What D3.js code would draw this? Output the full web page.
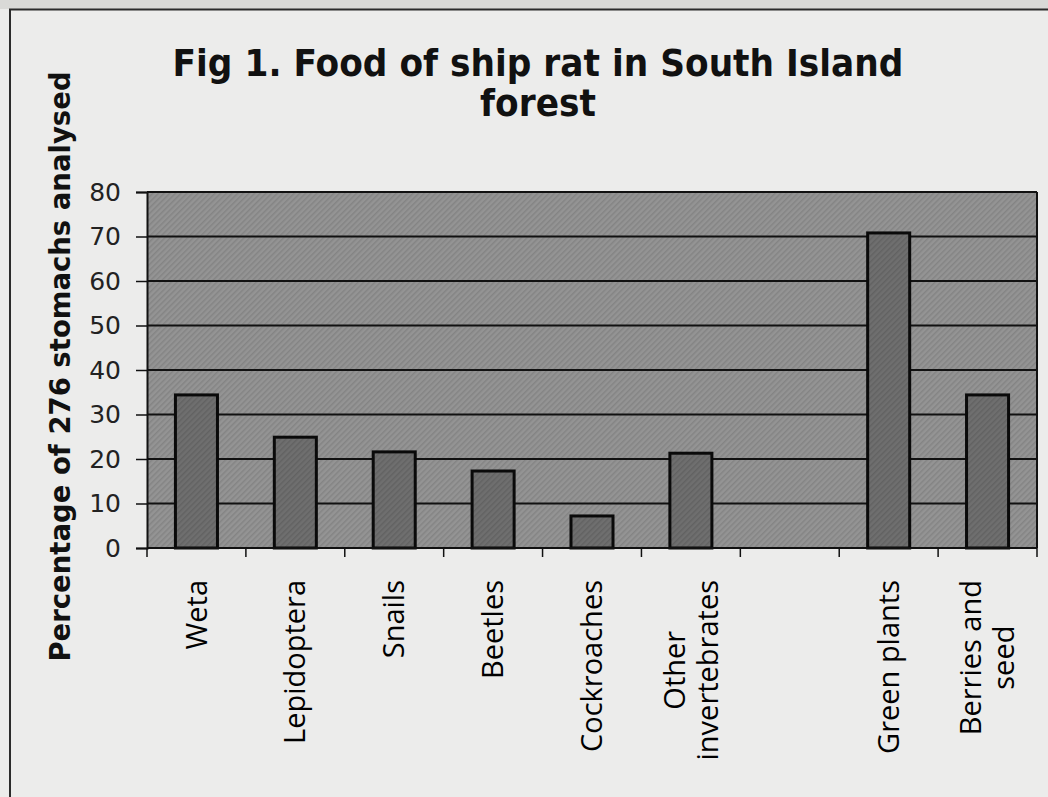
<!DOCTYPE html>
<html>
<head>
<meta charset="utf-8">
<script src="https://cdn.jsdelivr.net/npm/d3@7"></script>
<style>
  html, body { margin: 0; padding: 0; background: #ebebea; }
  svg { display: block; }
</style>
</head>
<body>
<svg id="chart"></svg>
<script>
// data
const categories = ["Weta", "Lepidoptera", "Snails", "Beetles", "Cockroaches",
    "Other invertebrates", "", "Green plants", "Berries and seed"];
const labelLines = [["Weta"], ["Lepidoptera"], ["Snails"], ["Beetles"], ["Cockroaches"],
    ["Other", "invertebrates"], [""], ["Green plants"], ["Berries and", "seed"]];
const percentages = [34.4, 24.9, 21.6, 17.3, 7.2, 21.3, null, 70.8, 34.4];
const yTicks = [0, 10, 20, 30, 40, 50, 60, 70, 80];
const titleLines = ["Fig 1. Food of ship rat in South Island", "forest"];
const yTitle = "Percentage of 276 stomachs analysed";

const width = 1048;
const height = 797;
const plot = { left: 147, right: 1037, top: 192, bottom: 548 };

const svg = d3.select("svg#chart")
    .attr("width", width)
    .attr("height", height)
    .attr("viewBox", [0, 0, width, height]);

// page / frame
svg.append("rect").attr("x", 0).attr("y", 0).attr("width", width).attr("height", height)
    .attr("fill", "#ececeb");
svg.append("rect").attr("x", 0).attr("y", 0).attr("width", width).attr("height", 9)
    .attr("fill", "#d9d9d7");
svg.append("path")
    .attr("d", `M10,${height} V9.5 H${width}`)
    .attr("fill", "none")
    .attr("stroke", "#2b2b2b")
    .attr("stroke-width", 2);

// textures to imitate the scanned fills
const defs = svg.append("defs");
function hatch(id, base, line) {
    const p = defs.append("pattern")
        .attr("id", id)
        .attr("width", 4).attr("height", 4)
        .attr("patternUnits", "userSpaceOnUse")
        .attr("patternTransform", "rotate(45)");
    p.append("rect").attr("width", 4).attr("height", 4).attr("fill", base);
    p.append("rect").attr("width", 1.5).attr("height", 4).attr("fill", line);
}
hatch("bgHatch", "#949494", "#848484");
hatch("barHatch", "#6f6f6f", "#626262");

const x = d3.scaleBand()
    .domain(categories)
    .range([plot.left, plot.right])
    .paddingInner(0.575)
    .paddingOuter(0.575 / 2);

const y = d3.scaleLinear()
    .domain([0, 80])
    .range([plot.bottom, plot.top]);

// plot area
svg.append("rect")
    .attr("x", plot.left)
    .attr("y", y(80))
    .attr("width", plot.right - plot.left)
    .attr("height", y(0) - y(80))
    .attr("fill", "url(#bgHatch)");

// gridlines
svg.append("g")
    .selectAll("line")
    .data(yTicks.filter(d => d > 0))
    .join("line")
    .attr("x1", plot.left)
    .attr("x2", plot.right)
    .attr("y1", d => y(d))
    .attr("y2", d => y(d))
    .attr("stroke", "#111")
    .attr("stroke-width", 2);

// right border
svg.append("line")
    .attr("x1", plot.right).attr("x2", plot.right)
    .attr("y1", y(80)).attr("y2", y(0))
    .attr("stroke", "#111").attr("stroke-width", 2);

// bars
const barData = categories.map((c, i) => ({ cat: c, value: percentages[i] }))
    .filter(d => d.value !== null);

svg.append("g")
    .selectAll("rect")
    .data(barData)
    .join("rect")
    .attr("x", d => x(d.cat))
    .attr("y", d => y(d.value))
    .attr("width", x.bandwidth())
    .attr("height", d => y(0) - y(d.value))
    .attr("fill", "url(#barHatch)")
    .attr("stroke", "#0a0a0a")
    .attr("stroke-width", 3);

// y axis
const yAxis = d3.axisLeft(y)
    .tickValues(yTicks)
    .tickSize(11)
    .tickPadding(15);

const yAxisG = svg.append("g")
    .attr("transform", `translate(${plot.left},0)`)
    .call(yAxis);
yAxisG.select(".domain").attr("stroke", "#111").attr("stroke-width", 2);
yAxisG.selectAll(".tick line").attr("stroke", "#111").attr("stroke-width", 1.5);
yAxisG.selectAll(".tick text")
    .attr("fill", "#222")
    .style("font-family", "'DejaVu Sans', Verdana, sans-serif")
    .style("font-size", "25px");

// x axis line and ticks at the slot boundaries
svg.append("line")
    .attr("x1", plot.left).attr("x2", plot.right)
    .attr("y1", y(0)).attr("y2", y(0))
    .attr("stroke", "#111").attr("stroke-width", 2);

const gap = x.step() * x.paddingInner() / 2;
const boundaries = categories.map(c => x(c) - gap).concat([plot.right]);
svg.append("g")
    .selectAll("line")
    .data(boundaries)
    .join("line")
    .attr("x1", d => d).attr("x2", d => d)
    .attr("y1", y(0)).attr("y2", y(0) + 9)
    .attr("stroke", "#111").attr("stroke-width", 1.5);

// category labels, rotated, top aligned under the axis
const labelTop = 580;
const lineGap = 33;
const labelG = svg.append("g")
    .style("font-family", "'Open Sans', sans-serif")
    .style("font-size", "29px")
    .attr("fill", "#000");

categories.forEach((c, i) => {
    const lines = labelLines[i];
    const g = labelG.append("g");
    const texts = lines.map(t => g.append("text").text(t).attr("text-anchor", "middle"));
    const longest = d3.max(texts, t => t.node().getComputedTextLength());
    const cx = x(c) + x.bandwidth() / 2;
    const cy = labelTop + longest / 2;
    texts.forEach((t, k) => {
        const off = (k - (lines.length - 1) / 2) * lineGap;
        t.attr("transform", `translate(${cx + off},${cy}) rotate(-90)`)
            .attr("dy", "0.35em");
    });
});

// chart title
const titleG = svg.append("g")
    .attr("transform", "translate(538,0) scale(0.93,1)")
    .style("font-family", "'DejaVu Sans', Verdana, sans-serif")
    .style("font-weight", "bold")
    .style("font-size", "37px")
    .attr("fill", "#111");
titleG.selectAll("text")
    .data(titleLines)
    .join("text")
    .attr("x", 0)
    .attr("y", (d, i) => 76 + i * 40)
    .attr("text-anchor", "middle")
    .text(d => d);

// y axis title
svg.append("text")
    .attr("transform", `translate(70,${(70 + 663) / 2}) rotate(-90)`)
    .attr("text-anchor", "middle")
    .style("font-family", "'DejaVu Sans', Verdana, sans-serif")
    .style("font-weight", "bold")
    .style("font-size", "27.5px")
    .attr("fill", "#111")
    .text(yTitle);
</script>
</body>
</html>
